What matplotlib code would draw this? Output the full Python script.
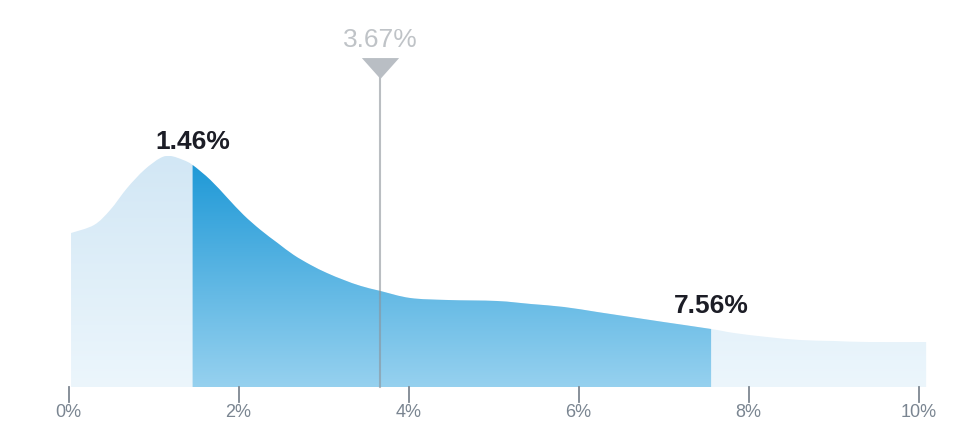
import matplotlib.pyplot as plt
import numpy as np
from matplotlib.colors import LinearSegmentedColormap
from matplotlib.path import Path
from matplotlib.patches import PathPatch

# density curve (x in %, height in relative units)
rate = [0.03, 0.30, 0.49, 0.69, 0.89, 1.08, 1.20, 1.35, 1.46, 1.67, 1.87, 2.06,
        2.26, 2.46, 2.65, 2.85, 3.04, 3.24, 3.44, 3.67, 4.02, 4.46, 5.04, 5.44,
        5.83, 6.22, 6.61, 7.00, 7.56, 7.83, 8.22, 8.61, 9.00, 9.40, 10.09]
density = [154, 162, 177, 199, 217, 229, 231, 227, 222, 207, 189, 172,
           157, 144, 132, 122, 114, 107, 101, 96, 89, 87, 86, 83,
           80, 75, 70, 65, 58, 54, 50, 47, 46, 45, 45]

low, high, mean = 1.46, 7.56, 3.67
ticks = [0, 2, 4, 6, 8, 10]
tick_labels = ["0%", "2%", "4%", "6%", "8%", "10%"]

plt.rcParams["font.family"] = ["Liberation Sans", "DejaVu Sans"]

fig = plt.figure(figsize=(9.75, 4.37), dpi=100)
ax = fig.add_axes([0, 0, 1, 1])
px = 85.0  # pixels per 1%
x0 = 68.5  # pixel of 0%
ax.axis("off")

x = np.array(rate)
y = np.array(density)
top = y.max()


def area_path(i0, i1):
    # smooth (catmull-rom as bezier) area under the curve between points i0..i1
    pts = np.column_stack([x, y])
    n = len(pts)
    verts = [(x[i0], 0), tuple(pts[i0])]
    codes = [Path.MOVETO, Path.LINETO]
    for i in range(i0, i1):
        p0, p1 = pts[max(i - 1, 0)], pts[i]
        p2, p3 = pts[i + 1], pts[min(i + 2, n - 1)]
        verts += [tuple(p1 + (p2 - p0) / 6), tuple(p2 - (p3 - p1) / 6), tuple(p2)]
        codes += [Path.CURVE4] * 3
    verts += [(x[i1], 0), (x[i0], 0)]
    codes += [Path.LINETO, Path.CLOSEPOLY]
    return Path(verts, codes)


def gradient_fill(i0, i1, c_top, c_bottom):
    patch = PathPatch(area_path(i0, i1), facecolor="none", lw=0)
    ax.add_patch(patch)
    cmap = LinearSegmentedColormap.from_list("g", [c_bottom, c_top])
    grad = np.linspace(0, 1, 256).reshape(-1, 1)
    im = ax.imshow(grad, cmap=cmap, aspect="auto", origin="lower",
                   extent=[x[0], x[-1], 0, top], zorder=1)
    im.set_clip_path(patch)


gradient_fill(0, len(x) - 1, "#d2e7f5", "#ecf6fc")
gradient_fill(rate.index(low), rate.index(high), "#1b97d6", "#96d1ef")

ax.set_xlim(-x0 / px, (975 - x0) / px)
ax.set_ylim(-50, 387)

# mean marker
ax.plot([mean, mean], [0, 322], color="#8c939a", alpha=0.6, lw=1.5, zorder=3)
tri = [(-1, 0.56), (1, 0.56), (0, -0.56)]
ax.scatter([mean], [319.5], marker=tri, s=720, color="#b9bec4", zorder=4,
           linewidths=0)
ax.text(mean, 347, f"{mean:.2f}%", ha="center", va="center", fontsize=19,
        color="#bfc3c7")

# bound labels
for v in (low, high):
    yv = np.interp(v, x, y)
    ax.text(v, yv + 16, f"{v:.2f}%", ha="center", va="baseline", fontsize=19,
            fontweight="bold", color="#1c1d26")

# axis ticks
for t, lab in zip(ticks, tick_labels):
    ax.plot([t, t], [0, -15], color="#7e8791", lw=1.3)
    ax.text(t, -25.5, lab, ha="center", va="center", fontsize=13, color="#7a8591")

fig.savefig("out.png", dpi=100)
